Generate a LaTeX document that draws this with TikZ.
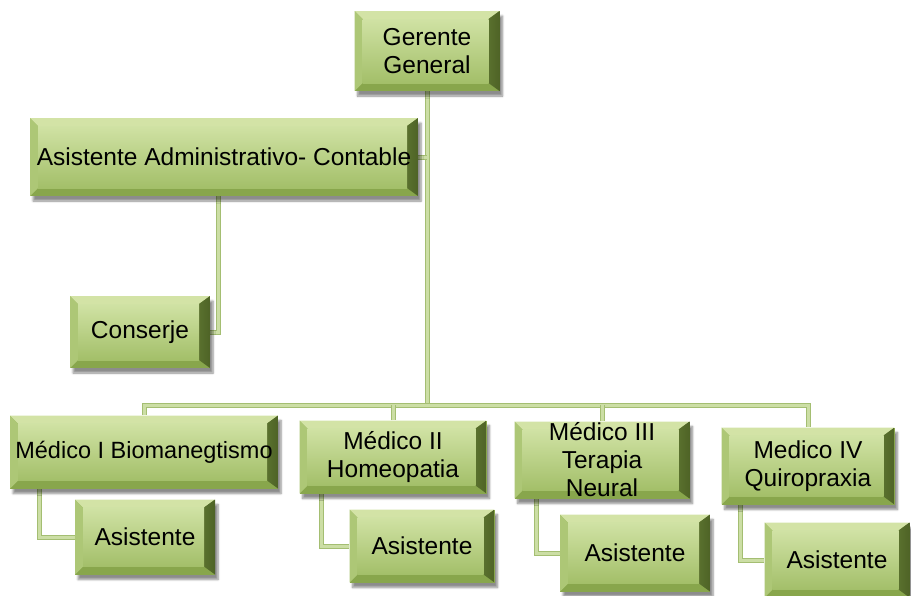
\documentclass[tikz,border=0pt]{standalone}
\usepackage{fontspec}
\setmainfont{Liberation Sans}
\usetikzlibrary{shadows.blur,backgrounds}
\definecolor{bevT}{HTML}{D3E3A6}
\definecolor{bevL}{HTML}{ADC776}
\definecolor{bevB}{HTML}{88A64C}
\definecolor{bevR}{HTML}{4E6326}
\definecolor{faceT}{HTML}{D0E2A4}
\definecolor{faceB}{HTML}{A3BF69}
\definecolor{lineC}{HTML}{CCDEA5}
\definecolor{lineE}{HTML}{A4BE72}
\tikzset{
  gbox/.style={rectangle, inner sep=0pt, align=center,
    font=\fontsize{24.5}{28}\selectfont, fill=bevB,
    blur shadow={shadow xshift=3pt, shadow yshift=-5pt, shadow blur steps=6, shadow opacity=45},
    path picture={
      \coordinate (pSW) at (path picture bounding box.south west);
      \coordinate (pNE) at (path picture bounding box.north east);
      \coordinate (pNW) at (pSW|-pNE);
      \coordinate (pSE) at (pNE|-pSW);
      \fill[bevT] (pNW) -- (pNE) -- ([shift={(-11pt,-8pt)}]pNE) -- ([shift={(8pt,-8pt)}]pNW) -- cycle;
      \fill[bevL] (pNW) -- ([shift={(8pt,-8pt)}]pNW) -- ([shift={(8pt,8pt)}]pSW) -- (pSW) -- cycle;
      \shade[left color=bevR!80!bevB, right color=bevR] (pNE) -- (pSE) -- ([shift={(-11pt,8pt)}]pSE) -- ([shift={(-11pt,-8pt)}]pNE) -- cycle;
      \shade[top color=faceT, bottom color=faceB] ([shift={(8pt,8pt)}]pSW) rectangle ([shift={(-11pt,-8pt)}]pNE);
    }},
  conn/.style={line width=5pt, draw=lineE, postaction={draw=lineC, line width=3pt}}
}
\begin{document}
\begin{tikzpicture}[x=1pt,y=-1pt]
\useasboundingbox (0,0) rectangle (911,595);
\node[gbox, minimum width=145pt, minimum height=80pt] (gg) at (427,51) {Gerente\\General};
\node[gbox, minimum width=388pt, minimum height=78pt] (adm) at (224,157) {Asistente Administrativo- Contable};
\node[gbox, minimum width=140pt, minimum height=72pt] (cons) at (140,332) {Conserje};
\node[gbox, minimum width=268pt, minimum height=73pt, font=\fontsize{23.5}{28}\selectfont] (m1) at (144,452) {Médico I Biomanegtismo};
\node[gbox, minimum width=187pt, minimum height=73pt] (m2) at (393,457) {Médico II\\Homeopatia};
\node[gbox, minimum width=175pt, minimum height=77pt] (m3) at (602,460) {Médico III\\Terapia\\Neural};
\node[gbox, minimum width=173pt, minimum height=77pt] (m4) at (808,466) {Medico IV\\Quiropraxia};
\node[gbox, minimum width=140pt, minimum height=75pt] (a1) at (145,537) {Asistente};
\node[gbox, minimum width=145pt, minimum height=73pt] (a2) at (422,546) {Asistente};
\node[gbox, minimum width=150pt, minimum height=77pt] (a3) at (635,553) {Asistente};
\node[gbox, minimum width=145pt, minimum height=75pt] (a4) at (837,560) {Asistente};
\coordinate (bus) at (427,405);
\begin{scope}[on background layer]
\draw[conn] (gg.south) -- (bus);
\draw[conn] (adm.east) -- (adm.east -| bus);
\draw[conn] ([xshift=-6pt]adm.south) |- (cons.east);
\draw[conn] (m1.north) -- (m1.north |- bus) -- (m4.north |- bus) -- (m4.north);
\draw[conn] (m2.north) -- (m2.north |- bus);
\draw[conn] (m3.north) -- (m3.north |- bus);
\draw[conn] ([xshift=30pt]m1.south west) |- (a1.west);
\draw[conn] ([xshift=22pt]m2.south west) |- (a2.west);
\draw[conn] ([xshift=22pt]m3.south west) |- (a3.west);
\draw[conn] ([xshift=19pt]m4.south west) |- (a4.west);
\end{scope}
\end{tikzpicture}
\end{document}
